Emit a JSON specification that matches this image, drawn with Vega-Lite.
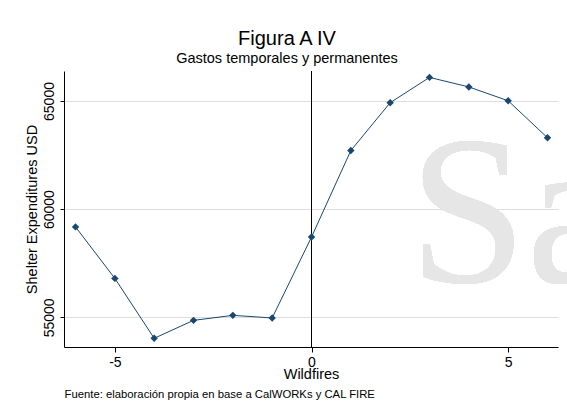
{
  "$schema": "https://vega.github.io/schema/vega-lite/v6.json",
  "autosize": "none",
  "width": 494,
  "height": 276,
  "padding": {"left": 64, "top": 71, "right": 9, "bottom": 67},
  "background": "white",
  "config": {"font": "Liberation Sans", "view": {"stroke": null}},
  "title": {
    "text": "Figura A IV",
    "subtitle": "Gastos temporales y permanentes",
    "fontSize": 20,
    "fontWeight": "normal",
    "subtitleFontSize": 14.5,
    "color": "black",
    "subtitleColor": "black",
    "font": "Liberation Sans",
    "subtitleFont": "Liberation Sans",
    "anchor": "middle",
    "dx": -24,
    "offset": 5,
    "subtitlePadding": 3
  },
  "data": {
    "values": [
      {"t": -6, "v": 59180},
      {"t": -5, "v": 56800},
      {"t": -4, "v": 54030},
      {"t": -3, "v": 54860},
      {"t": -2, "v": 55090},
      {"t": -1, "v": 54970},
      {"t": 0, "v": 58710},
      {"t": 1, "v": 62710},
      {"t": 2, "v": 64920},
      {"t": 3, "v": 66090},
      {"t": 4, "v": 65650},
      {"t": 5, "v": 65010},
      {"t": 6, "v": 63300}
    ]
  },
  "resolve": {"axis": {"x": "independent"}},
  "layer": [
    {
      "mark": {"type": "text", "text": "Sa", "font": "Liberation Serif", "fontSize": 212, "color": "#e6e6e6", "align": "left", "baseline": "alphabetic", "clip": false},
      "encoding": {
        "x": {"datum": 2.47, "type": "quantitative", "axis": null},
        "y": {"datum": 56630, "type": "quantitative"}
      }
    },
    {
      "mark": {"type": "rule", "color": "black", "strokeWidth": 1},
      "encoding": {
        "x": {
          "datum": 0,
          "type": "quantitative",
          "axis": {
            "orient": "bottom",
            "title": "Fuente: elaboración propia en base a CalWORKs y CAL FIRE",
            "labels": false,
            "ticks": false,
            "domain": false,
            "grid": false,
            "titleAnchor": "start",
            "titleFontSize": 11.3,
            "titleFontWeight": "normal",
            "titleColor": "black",
            "titlePadding": 41
          }
        }
      }
    },
    {
      "mark": {"type": "line", "color": "#1a476f", "strokeWidth": 1},
      "encoding": {
        "x": {
          "field": "t",
          "type": "quantitative",
          "scale": {"domain": [-6.293, 6.267], "nice": false, "zero": false},
          "axis": {
            "orient": "bottom",
            "title": "Wildfires",
            "values": [-5, 0, 5],
            "labelExpr": "datum.value",
            "grid": false,
            "domainColor": "black",
            "tickColor": "black",
            "tickSize": 5,
            "labelFontSize": 14,
            "labelColor": "black",
            "labelPadding": 3,
            "titleFontSize": 14.5,
            "titleFontWeight": "normal",
            "titleColor": "black",
            "titlePadding": -2
          }
        },
        "y": {
          "field": "v",
          "type": "quantitative",
          "scale": {"domain": [53628, 66386], "nice": false, "zero": false},
          "axis": {
            "title": "Shelter Expenditures USD",
            "values": [55000, 60000, 65000],
            "labelExpr": "datum.value",
            "grid": true,
            "gridColor": "#dedede",
            "domainColor": "black",
            "tickColor": "black",
            "tickSize": 4,
            "labelAngle": -90,
            "labelAlign": "center",
            "labelBaseline": "bottom",
            "labelFontSize": 14,
            "labelColor": "black",
            "labelPadding": 4,
            "titleFontSize": 14.5,
            "titleFontWeight": "normal",
            "titleColor": "black",
            "titlePadding": 3
          }
        }
      }
    },
    {
      "mark": {"type": "point", "shape": "diamond", "filled": true, "color": "#1a476f", "size": 55, "opacity": 1},
      "encoding": {
        "x": {"field": "t", "type": "quantitative", "axis": null},
        "y": {"field": "v", "type": "quantitative"}
      }
    }
  ]
}
